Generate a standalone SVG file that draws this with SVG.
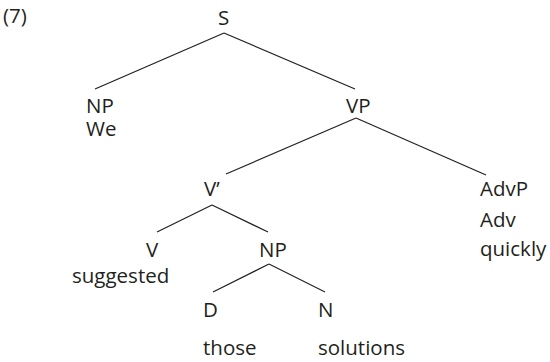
<svg xmlns="http://www.w3.org/2000/svg" width="550" height="362" viewBox="0 0 550 362">
<style>
text{font-family:"Open Sans","Noto Sans",sans-serif;font-size:20.5px;fill:#231f20}
.e{stroke:#231f20;stroke-width:1.2;fill:none}
</style>
<rect width="550" height="362" fill="#fff"/>
<text x="3" y="23">(7)</text>
<g id="connectors">
<line class="e" x1="224" y1="33" x2="95" y2="89"/>
<line class="e" x1="224" y1="33" x2="355" y2="89"/>
<line class="e" x1="356" y1="118" x2="226" y2="174"/>
<line class="e" x1="356" y1="118" x2="486" y2="175"/>
<line class="e" x1="212" y1="205" x2="157" y2="232"/>
<line class="e" x1="212" y1="205" x2="268" y2="232"/>
<line class="e" x1="269" y1="264" x2="213" y2="292"/>
<line class="e" x1="269" y1="264" x2="325" y2="292"/>
</g>
<g id="S"><text x="218" y="25">S</text></g>
<g id="NP1"><text x="86" y="113">NP</text><text x="86" y="136">We</text></g>
<g id="VP"><text x="346" y="113">VP</text></g>
<g id="Vbar"><text x="204" y="196">V’</text></g>
<g id="AdvP"><text x="480" y="196">AdvP</text><text x="480" y="227">Adv</text><text x="480" y="256">quickly</text></g>
<g id="V"><text x="146" y="257">V</text><text x="72" y="283">suggested</text></g>
<g id="NP2"><text x="259" y="257">NP</text></g>
<g id="D"><text x="203" y="317">D</text><text x="203" y="355">those</text></g>
<g id="N"><text x="318" y="317">N</text><text x="318" y="355">solutions</text></g>
</svg>
